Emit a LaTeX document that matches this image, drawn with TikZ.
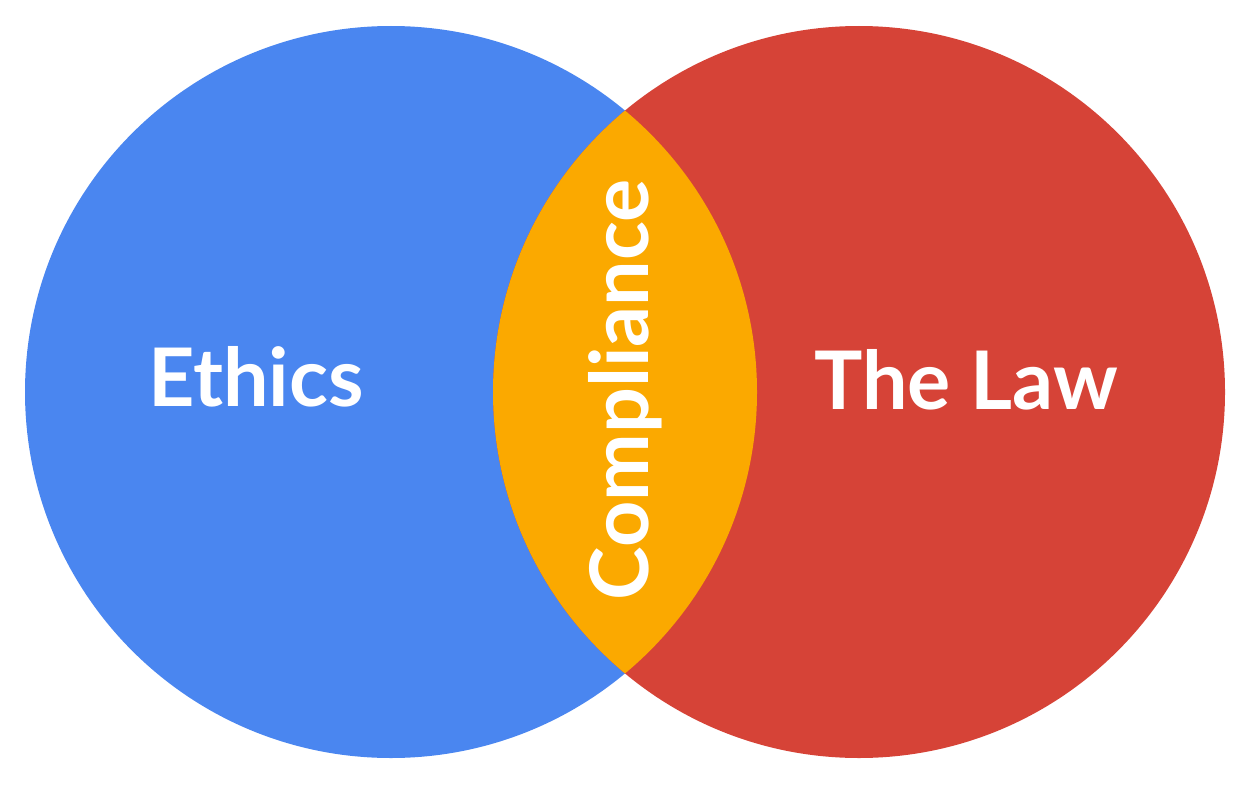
\documentclass[tikz,border=0pt]{standalone}
\usepackage{fontspec}
\setmainfont{Lato}
\definecolor{cblue}{HTML}{4A86F0}
\definecolor{cred}{HTML}{D64337}
\definecolor{corange}{HTML}{FBA900}
\begin{document}
\begin{tikzpicture}[x=0.02cm,y=-0.02cm,
  lbl/.style={text=white,font=\fontsize{46}{50}\selectfont\bfseries}]
\useasboundingbox (0,0) rectangle (1250,784);
\fill[cblue] (391,392) circle (366);
\fill[cred] (859,392) circle (366);
\begin{scope}
\clip (391,392) circle (366);
\fill[corange] (859,392) circle (366);
\end{scope}
\node[lbl] (ethics) at (256,377) {Ethics};
\node[lbl] (law) at (966,380) {The Law};
\node[lbl,rotate=90] (comp) at (625,390) {Compliance};
\end{tikzpicture}
\end{document}
